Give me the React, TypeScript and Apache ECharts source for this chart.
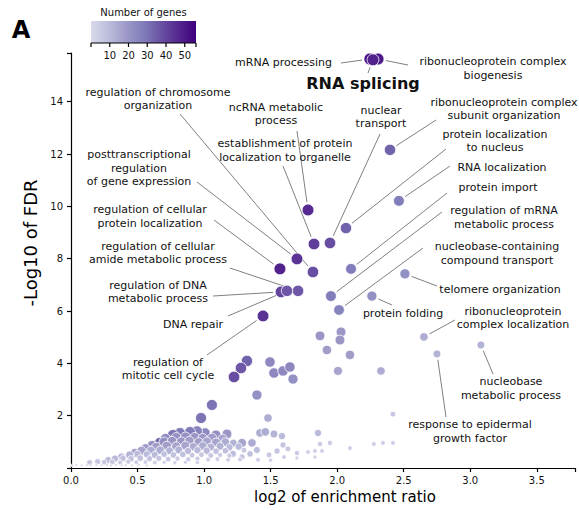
import React, { useEffect, useRef } from "react";
import * as echarts from "echarts";

// ---- labelled GO terms ----
const termNames = [
  "mRNA processing",
  "ribonucleoprotein complex biogenesis",
  "RNA splicing",
  "regulation of chromosome organization",
  "ncRNA metabolic process",
  "nuclear transport",
  "ribonucleoprotein complex subunit organization",
  "establishment of protein localization to organelle",
  "protein localization to nucleus",
  "posttranscriptional regulation of gene expression",
  "RNA localization",
  "protein import",
  "regulation of cellular protein localization",
  "regulation of mRNA metabolic process",
  "regulation of cellular amide metabolic process",
  "nucleobase-containing compound transport",
  "telomere organization",
  "regulation of DNA metabolic process",
  "protein folding",
  "ribonucleoprotein complex localization",
  "DNA repair",
  "regulation of mitotic cell cycle",
  "nucleobase metabolic process",
  "response to epidermal growth factor",
];
const termLabels = [
  "mRNA processing",
  "ribonucleoprotein complex\nbiogenesis",
  "RNA splicing",
  "regulation of chromosome\norganization",
  "ncRNA metabolic\nprocess",
  "nuclear\ntransport",
  "ribonucleoprotein complex\nsubunit organization",
  "establishment of protein\nlocalization to organelle",
  "protein localization\nto nucleus",
  "posttranscriptional\nregulation\nof gene expression",
  "RNA localization",
  "protein import",
  "regulation of cellular\nprotein localization",
  "regulation of mRNA\nmetabolic process",
  "regulation of cellular\namide metabolic process",
  "nucleobase-containing\ncompound transport",
  "telomere organization",
  "regulation of DNA\nmetabolic process",
  "protein folding",
  "ribonucleoprotein\ncomplex localization",
  "DNA repair",
  "regulation of\nmitotic cell cycle",
  "nucleobase\nmetabolic process",
  "response to epidermal\ngrowth factor",
];
const termX = [2.246, 2.307, 2.269, 1.818, 1.781, 1.946, 2.397, 1.826, 2.066, 1.698, 2.464, 2.104, 1.57, 1.953, 1.706, 2.014, 2.509, 1.578, 2.261, 2.652, 1.623, 1.443, 3.08, 2.75];
const termY = [15.63, 15.63, 15.6, 7.49, 9.86, 8.6, 12.16, 8.56, 9.17, 7.99, 10.21, 7.61, 7.61, 6.57, 6.77, 6.04, 7.42, 6.73, 6.57, 5.01, 6.77, 5.81, 4.7, 4.36];
const termGenes = [52, 50, 48, 38, 46, 38, 34, 42, 34, 44, 28, 28, 48, 28, 36, 26, 22, 40, 22, 14, 36, 44, 12, 12];

// ---- other (unlabelled) terms ----
const bgX = [
  1.871, 2.029, 2.021, 1.923, 2.096, 2.006, 2.329, 2.419, 1.322, 1.277, 1.225, 1.495, 1.525, 1.593, 1.645, 1.668, 1.397, 1.059, 0.977, 1.48,
  1.42, 1.46, 1.525, 1.585, 1.856, 1.285, 1.36, 1.172, 1.089, 1.007, 0.947, 0.894, 0.819, 0.766, 0.669,
  1.871, 1.946, 2.096, 2.276, 2.344, 2.419, 1.593, 1.63, 1.698, 1.781, 1.833, 1.886, 1.548, 1.488, 1.397, 1.345, 1.285, 1.217, 1.698, 1.833, 1.405, 1.5, 1.6,
  0.71, 0.79, 0.86, 0.93, 0.99, 1.06, 1.14,
  0.61, 0.7, 0.76, 0.83, 0.89, 0.96, 1.02, 1.09, 1.16, 1.22,
  0.56, 0.64, 0.72, 0.79, 0.86, 0.92, 0.99, 1.05, 1.12, 1.19, 1.26,
  0.48, 0.53, 0.6, 0.67, 0.74, 0.81, 0.88, 0.95, 1.02, 1.09, 1.16, 1.3,
  0.38, 0.44, 0.5, 0.57, 0.63, 0.7, 0.77, 0.84, 0.91, 0.98, 1.05, 1.12, 1.19,
  0.28, 0.33, 0.39, 0.45, 0.52, 0.59, 0.66, 0.73, 0.8, 0.88, 0.95, 1.03, 1.1, 1.18, 1.27,
  0.14, 0.2, 0.25, 0.31, 0.37, 0.43, 0.49, 0.56, 0.63, 0.7, 0.78, 0.86, 0.95,
  0.01, 0.04, 0.08, 0.12, 0.15, 0.19, 0.23, 0.27, 0.3, 0.34, 0.38, 0.41, 0.46, 0.51, 0.57,
];
const bgY = [
  5.05, 5.2, 4.89, 4.51, 4.32, 3.71, 3.71, 2.06, 4.09, 3.82, 3.48, 4.05, 3.63, 3.71, 3.86, 3.4, 2.79, 2.41, 1.91, 1.91,
  1.34, 1.38, 1.3, 1.22, 1.34, 0.96, 0.96, 1.3, 1.26, 1.34, 1.41, 1.38, 1.34, 1.26, 0.96,
  0.92, 0.96, 0.76, 0.92, 0.96, 0.96, 0.88, 0.73, 0.57, 0.61, 0.65, 0.65, 0.65, 0.5, 0.69, 0.54, 0.42, 0.54, 0.38, 0.42, 0.31, 0.3, 0.42,
  1.12, 1.16, 1.18, 1.17, 1.13, 1.15, 1.12,
  0.86, 0.99, 1.02, 1.0, 1.03, 0.98, 1.01, 0.97, 0.99, 0.95,
  0.74, 0.8, 0.84, 0.83, 0.85, 0.81, 0.84, 0.8, 0.83, 0.79, 0.82,
  0.58, 0.66, 0.67, 0.68, 0.66, 0.69, 0.65, 0.68, 0.66, 0.64, 0.66, 0.68,
  0.42, 0.5, 0.53, 0.52, 0.5, 0.53, 0.5, 0.52, 0.49, 0.51, 0.48, 0.5, 0.47,
  0.3, 0.36, 0.37, 0.35, 0.38, 0.36, 0.37, 0.34, 0.36, 0.33, 0.35, 0.32, 0.34, 0.31, 0.33,
  0.2, 0.24, 0.22, 0.23, 0.21, 0.24, 0.22, 0.23, 0.21, 0.22, 0.2, 0.22, 0.21,
  0.1, 0.11, 0.1, 0.11, 0.1, 0.11, 0.1, 0.11, 0.1, 0.11, 0.1, 0.11, 0.1, 0.11, 0.09,
];
const bgGenes = [
  20, 20, 20, 18, 18, 16, 14, 6, 34, 36, 38, 24, 24, 24, 24, 22, 22, 30, 30, 14,
  14, 14, 12, 10, 10, 16, 14, 20, 22, 24, 26, 28, 28, 30, 32,
  5, 5, 4, 4, 4, 4, 7, 6, 5, 4, 4, 4, 7, 6, 9, 8, 7, 9, 3, 3, 4, 3, 4,
  24, 22, 22, 20, 20, 18, 16,
  22, 22, 20, 20, 18, 18, 16, 16, 14, 12,
  20, 18, 18, 16, 16, 14, 14, 12, 12, 10, 10,
  16, 16, 14, 14, 12, 12, 10, 10, 10, 8, 8, 6,
  12, 12, 10, 10, 10, 8, 8, 8, 6, 6, 6, 5, 5,
  10, 10, 8, 8, 8, 7, 7, 6, 5, 5, 5, 4, 4, 4, 4,
  7, 7, 6, 6, 5, 5, 4, 4, 4, 3, 3, 3, 3,
  1, 1, 1, 1, 1, 1, 1, 1, 1, 1, 1, 1, 1, 1, 1,
];

const colorbarTicks = [10, 20, 30, 40, 50];
const GENE_MIN = 0;
const GENE_MAX = 56;
const PURPLES = ["#dadaeb", "#bcbddc", "#9e9ac8", "#807dba", "#6a51a3", "#54278f", "#3f007d"];

// label placement in pixels: [x, y, align, anchorX, anchorY]
const LABEL_LAYOUT: [number, number, string, number, number][] = [
  [332, 62, "right", 341, 63],
  [493, 68.5, "center", 408, 65],
  [363, 83, "center", 368, 73],
  [158, 99, "center", 180, 114],
  [276, 114, "center", 297, 131],
  [381, 117, "center", 380, 134],
  [504, 109, "center", 436, 120],
  [285, 150.5, "center", 283, 166],
  [495, 141, "center", 446, 149],
  [139, 168, "center", 197, 182],
  [502, 167, "center", 450, 166],
  [498, 187, "center", 447, 193],
  [150, 216.5, "center", 214, 220],
  [504, 217.5, "center", 442, 212],
  [158, 253, "center", 230, 268],
  [497, 253.5, "center", 423, 248],
  [500, 289, "center", 437, 286],
  [158, 292, "center", 213, 296],
  [403, 313, "center", 392, 305],
  [513, 318, "center", 455, 320],
  [193, 324, "center", 228, 316],
  [168, 369, "center", 207, 355],
  [511, 388.5, "center", 493, 374],
  [470, 431.5, "center", 446, 417],
];

const FONT = "DejaVu Sans";
const sizeOf = (g: number) => 2.2 + 10 * (1 - Math.exp(-g / 14));

export default function App() {
  const ref = useRef<HTMLDivElement>(null);
  useEffect(() => {
    const el = ref.current!;
    const chart = echarts.init(el, null, { renderer: "svg" });
    const bgData = bgX.map((x, i) => [x, bgY[i], bgGenes[i]]);
    const termData = termX.map((x, i) => ({ name: termNames[i], value: [x, termY[i], termGenes[i]] }));
    const axisCommon = {
      splitLine: { show: false },
      axisLine: { show: true, onZero: false, lineStyle: { color: "#000", width: 1.2 } },
      axisTick: { show: true, length: 4, inside: false, lineStyle: { color: "#000", width: 1.2 } },
    };
    chart.setOption({
      animation: false,
      backgroundColor: "#fff",
      textStyle: { fontFamily: FONT },
      grid: { left: 71, right: 4, top: 53, bottom: 42, containLabel: false },
      xAxis: {
        type: "value",
        min: 0,
        max: 3.787,
        interval: 0.5,
        ...axisCommon,
        axisLabel: {
          fontSize: 10,
          color: "#111",
          margin: 7,
          fontFamily: FONT,
          formatter: (v: number) => (Math.abs(v * 2 - Math.round(v * 2)) < 1e-6 ? v.toFixed(1) : ""),
        },
      },
      yAxis: {
        type: "value",
        min: 0,
        max: 15.86,
        interval: 2,
        ...axisCommon,
        axisLabel: {
          fontSize: 10,
          color: "#111",
          margin: 8,
          fontFamily: FONT,
          formatter: (v: number) => (v > 0 && Math.abs(v % 2) < 1e-6 ? String(v) : ""),
        },
      },
      visualMap: {
        show: false,
        type: "continuous",
        min: GENE_MIN,
        max: GENE_MAX,
        dimension: 2,
        seriesIndex: [0, 1],
        inRange: { color: PURPLES },
      },
      series: [
        {
          type: "scatter",
          data: bgData,
          symbolSize: (v: number[]) => sizeOf(v[2]),
          itemStyle: { borderColor: "#fff", borderWidth: 0.8, opacity: 1 },
          emphasis: { disabled: true },
        },
        {
          type: "scatter",
          data: termData,
          symbolSize: (v: number[]) => sizeOf(v[2]),
          itemStyle: { borderColor: "#fff", borderWidth: 0.8, opacity: 1 },
          emphasis: { disabled: true },
        },
      ],
    });

    const g: any[] = [];
    termNames.forEach((_, i) => {
      const [cx, cy, align, ax, ay] = LABEL_LAYOUT[i];
      const p = chart.convertToPixel({ gridIndex: 0 }, [termX[i], termY[i]]) as number[];
      const dx = ax - p[0];
      const dy = ay - p[1];
      const d = Math.sqrt(dx * dx + dy * dy) || 1;
      const r = sizeOf(termGenes[i]) / 2 + 2;
      g.push({
        type: "line",
        silent: true,
        shape: { x1: ax, y1: ay, x2: p[0] + (dx / d) * r, y2: p[1] + (dy / d) * r },
        style: { stroke: "#808080", lineWidth: 1 },
      });
      const bold = termNames[i] === "RNA splicing";
      g.push({
        type: "text",
        silent: true,
        x: cx,
        y: cy,
        style: {
          text: termLabels[i],
          align,
          verticalAlign: "middle",
          font: bold ? `bold 16px "${FONT}"` : `11px "${FONT}"`,
          fill: "#111",
          lineHeight: 13.5,
        },
      });
    });

    // colour bar
    const cbX = 91, cbY = 21, cbW = 105, cbH = 22;
    g.push({
      type: "rect",
      silent: true,
      shape: { x: cbX, y: cbY, width: cbW, height: cbH },
      style: {
        fill: new echarts.graphic.LinearGradient(
          0, 0, 1, 0,
          PURPLES.map((c, k) => ({ offset: k / (PURPLES.length - 1), color: c }))
        ),
      },
    });
    g.push({
      type: "line",
      silent: true,
      shape: { x1: cbX, y1: cbY + cbH, x2: cbX + cbW, y2: cbY + cbH },
      style: { stroke: "#000", lineWidth: 1.2 },
    });
    [GENE_MIN, ...colorbarTicks, GENE_MAX].forEach((v) => {
      const tx = cbX + ((v - GENE_MIN) / (GENE_MAX - GENE_MIN)) * cbW;
      g.push({
        type: "line",
        silent: true,
        shape: { x1: tx, y1: cbY + cbH, x2: tx, y2: cbY + cbH + 4 },
        style: { stroke: "#000", lineWidth: 1.2 },
      });
    });
    colorbarTicks.forEach((v) => {
      const tx = cbX + ((v - GENE_MIN) / (GENE_MAX - GENE_MIN)) * cbW;
      g.push({
        type: "text",
        silent: true,
        x: tx,
        y: 55,
        style: { text: String(v), align: "center", verticalAlign: "middle", font: `10px "${FONT}"`, fill: "#111" },
      });
    });
    g.push({
      type: "text",
      silent: true,
      x: cbX + cbW / 2,
      y: 12,
      style: { text: "Number of genes", align: "center", verticalAlign: "middle", font: `10px "${FONT}"`, fill: "#111" },
    });
    // panel letter
    g.push({
      type: "text",
      silent: true,
      x: 21,
      y: 30,
      style: { text: "A", align: "center", verticalAlign: "middle", font: `bold 24px "${FONT}"`, fill: "#000" },
    });
    // axis titles
    g.push({
      type: "text",
      silent: true,
      x: 345,
      y: 497,
      style: { text: "log2 of enrichment ratio", align: "center", verticalAlign: "middle", font: `15px "${FONT}"`, fill: "#000" },
    });
    g.push({
      type: "text",
      silent: true,
      x: 30,
      y: 243,
      rotation: Math.PI / 2,
      style: { text: "-Log10 of FDR", align: "center", verticalAlign: "middle", font: `18px "${FONT}"`, fill: "#000" },
    });
    chart.setOption({ graphic: g });
    return () => chart.dispose();
  }, []);
  return <div ref={ref} style={{ position: "fixed", left: 0, top: 0, width: 579, height: 510 }} />;
}
